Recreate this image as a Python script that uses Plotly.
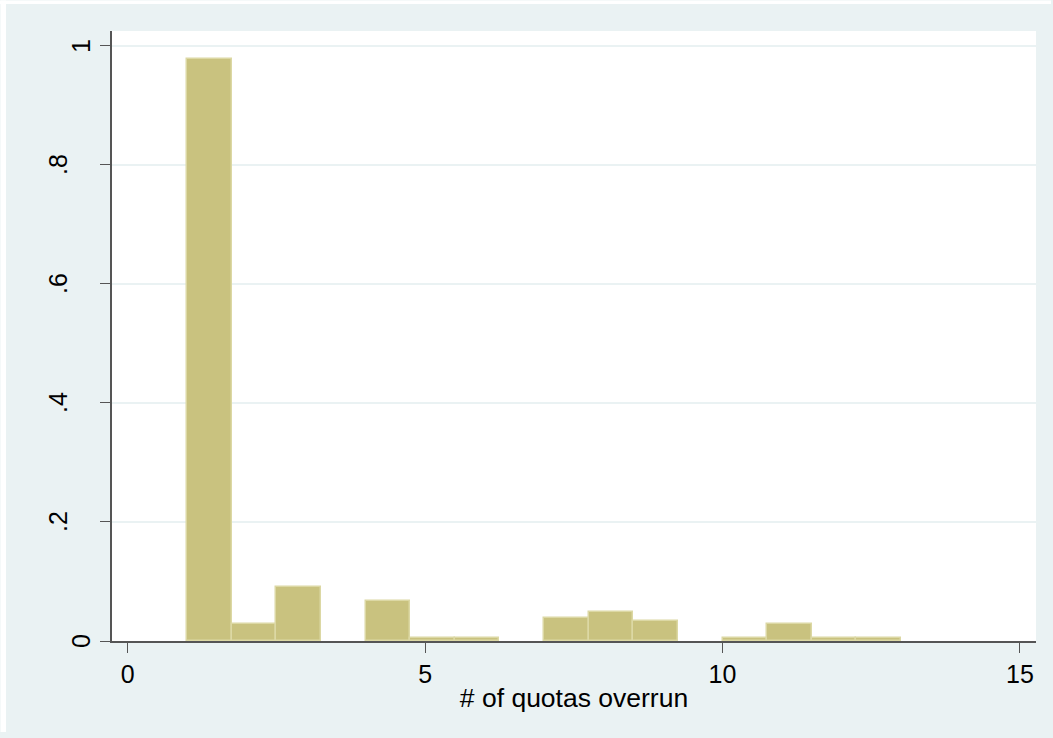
import plotly.graph_objects as go

# Histogram of quota overruns (density scale), bins of width 0.75 starting at 1
bin_start = 1.0
bin_width = 0.75
density = [0.978, 0.0293, 0.0908, 0.0, 0.0668, 0.005, 0.005, 0.0,
           0.0382, 0.0483, 0.0337, 0.0, 0.0057, 0.0292, 0.005, 0.005]

x_ticks = [0, 5, 10, 15]
y_ticks = [0, 0.2, 0.4, 0.6, 0.8, 1.0]
y_tick_text = ["0", ".2", ".4", ".6", ".8", "1"]

bin_left = [bin_start + i * bin_width for i in range(len(density))]

bg = "#eaf2f3"
axis_col = "#555555"
font_fam = "Liberation Sans, Arial, sans-serif"
fs = 25

W, H = 1053, 738
ml, mr, mt, mb = 112, 17, 31, 97
pw, ph = W - ml - mr, H - mt - mb

# empty bins get no outline so nothing is drawn for them
line_w = [1.5 if d > 0 else 0 for d in density]

fig = go.Figure(go.Bar(
    x=bin_left,
    y=density,
    width=bin_width,
    offset=0,
    marker=dict(color="#c9c27f", line=dict(color="#dcd8a4", width=line_w)),
    hoverinfo="skip",
))

fig.update_layout(
    width=W, height=H,
    paper_bgcolor=bg,
    plot_bgcolor="white",
    margin=dict(l=ml, r=mr, t=mt, b=mb),
    showlegend=False,
    bargap=0,
    font=dict(family=font_fam, size=fs, color="black"),
)

fig.update_xaxes(
    range=[-0.264, 15.27],
    tickvals=x_ticks,
    ticks="outside", ticklen=10, tickwidth=1.2, tickcolor=axis_col,
    showgrid=False, zeroline=False,
    showline=True, linecolor=axis_col, linewidth=1.5,
    tickfont=dict(size=fs),
    title=dict(text="# of quotas overrun", font=dict(size=26.5), standoff=2),
)

fig.update_yaxes(
    range=[0, 1.025],
    tickvals=y_ticks,
    showticklabels=False,
    ticks="outside", ticklen=10, tickwidth=1.2, tickcolor=axis_col,
    showgrid=True, gridcolor=bg, gridwidth=1.5,
    zeroline=False,
    showline=True, linecolor=axis_col, linewidth=1.5,
)

# vertical y tick labels, reading bottom to top
for val, txt in zip(y_ticks, y_tick_text):
    fig.add_annotation(
        x=0, xref="paper", y=val, yref="y",
        text=txt, textangle=-90, showarrow=False,
        xanchor="center", yanchor="middle",
        xshift=-54 if txt.startswith(".") else -31,
        font=dict(size=fs, family=font_fam, color="black"),
    )

# thin white frame along the top and left edges of the graph region
fig.add_shape(type="rect", xref="paper", yref="paper",
              x0=-ml / pw, x1=(W - ml - 2) / pw,
              y0=(ph + mt - 4) / ph, y1=(ph + mt - 0.5) / ph,
              fillcolor="white", line_width=0, layer="above")
fig.add_shape(type="rect", xref="paper", yref="paper",
              x0=(0.5 - ml) / pw, x1=(6 - ml) / pw,
              y0=(6 - mb) / ph, y1=(ph + mt - 0.5) / ph,
              fillcolor="white", line_width=0, layer="above")

fig.write_html("out.html")
